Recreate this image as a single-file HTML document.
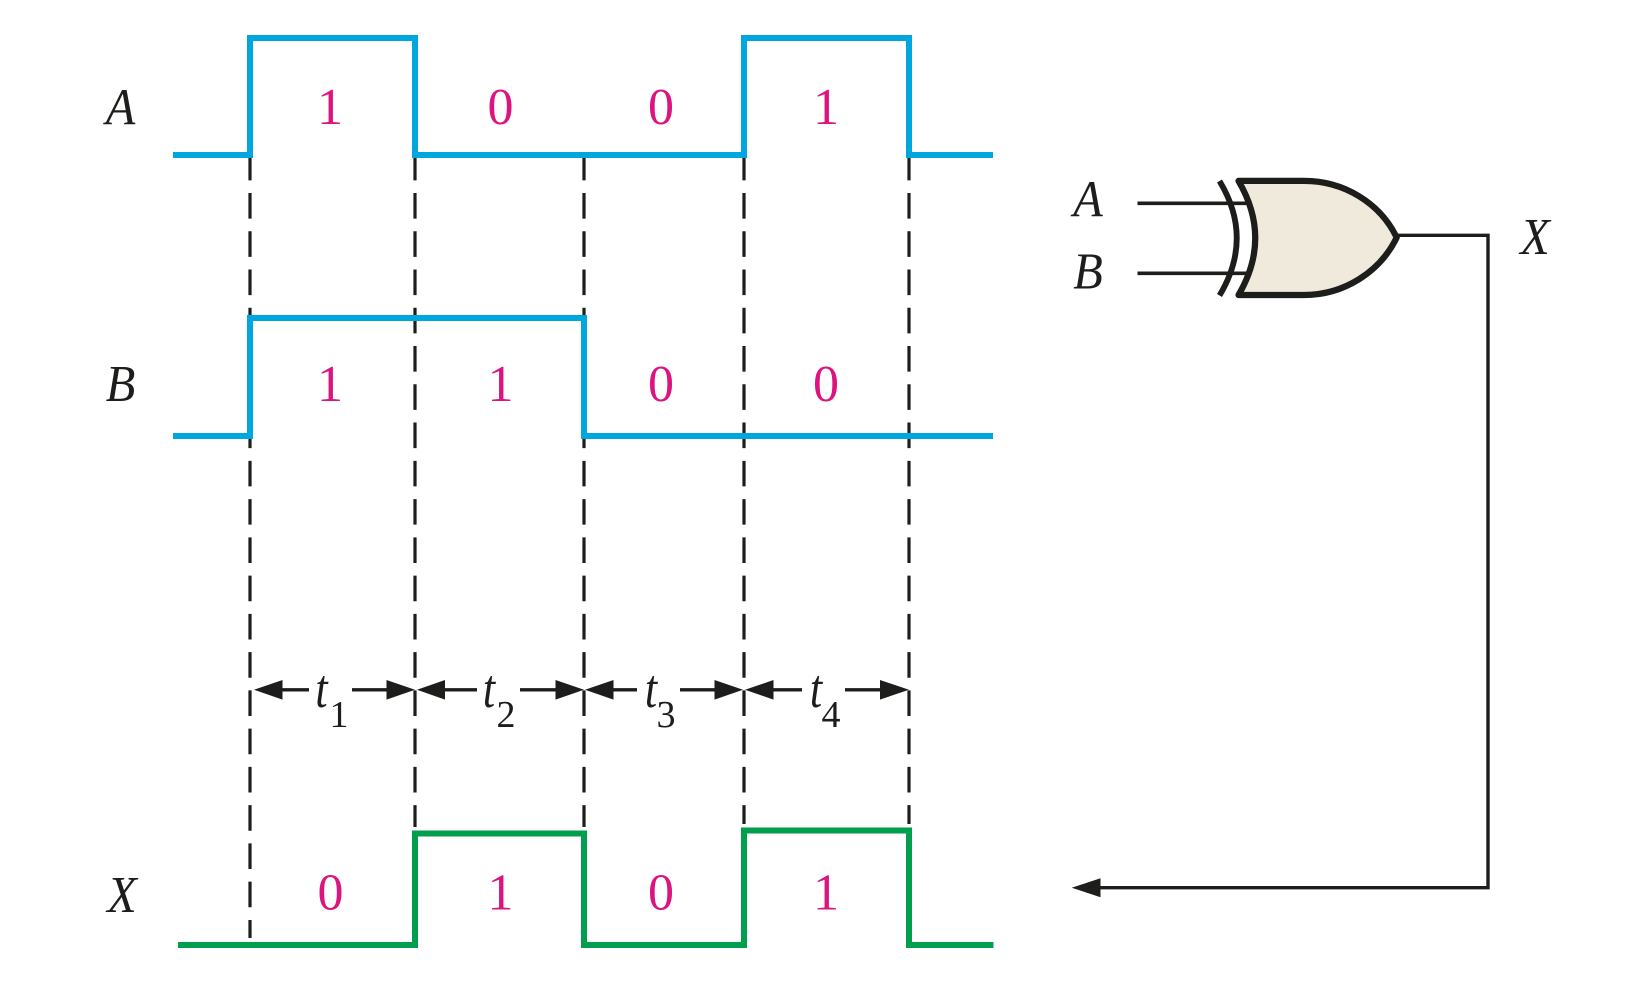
<!DOCTYPE html>
<html>
<head>
<meta charset="utf-8">
<style>
html,body{margin:0;padding:0;background:#fff;width:1644px;height:1000px;overflow:hidden}
svg{display:block}
text{font-family:"Liberation Serif",serif}
.d{font-size:52px;fill:#db1480;text-anchor:middle}
.l{font-size:52px;font-style:italic;fill:#1d1d1b;text-anchor:middle}
.t{font-size:55px;font-style:italic;fill:#1d1d1b;text-anchor:middle}
.s{font-size:38px;fill:#1d1d1b;text-anchor:middle}
</style>
</head>
<body>
<svg width="1644" height="1000" viewBox="0 0 1644 1000" xmlns="http://www.w3.org/2000/svg">
<rect width="1644" height="1000" fill="#fff"/>

<!-- dashed guides -->
<g stroke="#1d1d1b" stroke-width="3.2" fill="none" stroke-dasharray="25.6 12.66">
<path d="M250 154.74V938"/>
<path d="M415 154.74V827"/>
<path d="M584 154.74V827"/>
<path d="M744 154.74V824"/>
<path d="M909 154.74V824"/>
</g>

<!-- waveforms -->
<g fill="none" stroke-width="6" stroke-linejoin="miter" stroke-linecap="butt">
<path stroke="#00a6de" d="M173 155H250V38H415V155H744V38H909V155H993"/>
<path stroke="#00a6de" d="M173 436H250V318H584V436H993"/>
<path stroke="#009e4d" d="M178 945H415V833.5H584V945H744V830.5H909V945H993.5"/>
</g>

<!-- period arrows -->
<g stroke="#1d1d1b" stroke-width="3.4" fill="none">
<path d="M280 689.8H309M352 689.8H388"/>
<path d="M444 689.8H477M520 689.8H556"/>
<path d="M612 689.8H637M680 689.8H716"/>
<path d="M772 689.8H802M845 689.8H881"/>
</g>
<g fill="#1d1d1b">
<path d="M254 689.8L282.5 680V699.6Z"/>
<path d="M415 689.8L386.5 680V699.6Z"/>
<path d="M417 689.8L445 680V699.6Z"/>
<path d="M584 689.8L555.5 680V699.6Z"/>
<path d="M585 689.8L613.5 680V699.6Z"/>
<path d="M743 689.8L714.5 680V699.6Z"/>
<path d="M745 689.8L773.5 680V699.6Z"/>
<path d="M909 689.8L880 680V699.6Z"/>
</g>
<text class="t" transform="translate(321.5 707) scale(.8 1)">t</text><text class="s" x="339" y="727">1</text>
<text class="t" transform="translate(489 707) scale(.8 1)">t</text><text class="s" x="506" y="727">2</text>
<text class="t" transform="translate(651 707) scale(.8 1)">t</text><text class="s" x="666" y="727">3</text>
<text class="t" transform="translate(816 707) scale(.8 1)">t</text><text class="s" x="831" y="727">4</text>

<!-- row labels -->
<text class="l" transform="translate(120.5 124.5) scale(.93 1)">A</text>
<text class="l" transform="translate(120.5 401) scale(.93 1)">B</text>
<text class="l" transform="translate(122 912) scale(.93 1)">X</text>

<!-- bits -->
<text class="d" x="330" y="124">1</text>
<text class="d" x="500.5" y="124">0</text>
<text class="d" x="661" y="124">0</text>
<text class="d" x="826" y="124">1</text>
<text class="d" x="330" y="401">1</text>
<text class="d" x="500.5" y="401">1</text>
<text class="d" x="661" y="401">0</text>
<text class="d" x="826" y="401">0</text>
<text class="d" x="330.5" y="909.5">0</text>
<text class="d" x="500.5" y="909.5">1</text>
<text class="d" x="661" y="909.5">0</text>
<text class="d" x="826" y="909.5">1</text>

<!-- gate inputs -->
<g stroke="#1d1d1b" stroke-width="3.6" fill="none">
<path d="M1137.5 203.3H1247"/>
<path d="M1137.5 273.3H1247"/>
</g>
<!-- XOR input bar -->
<path d="M1219.5 181Q1254 238 1219.5 295.5" fill="none" stroke="#1d1d1b" stroke-width="5.8"/>
<!-- gate body -->
<path d="M1238.5 180.9H1304C1344 180.9 1380 203 1396.7 237.5C1380 272 1344 295 1304 295H1238.5Q1272 238 1238.5 180.9Z" fill="#f0eadc" stroke="#1d1d1b" stroke-width="6.2" stroke-linejoin="round"/>

<!-- output feedback -->
<path d="M1397 235.3H1488V887.7H1098" fill="none" stroke="#1d1d1b" stroke-width="3.4"/>
<path d="M1071.7 887.7L1100.5 878.2V897.2Z" fill="#1d1d1b"/>

<!-- gate labels -->
<text class="l" transform="translate(1088 216.5) scale(.93 1)">A</text>
<text class="l" transform="translate(1088 288.5) scale(.93 1)">B</text>
<text class="l" transform="translate(1535 254) scale(.93 1)">X</text>
</svg>
</body>
</html>
